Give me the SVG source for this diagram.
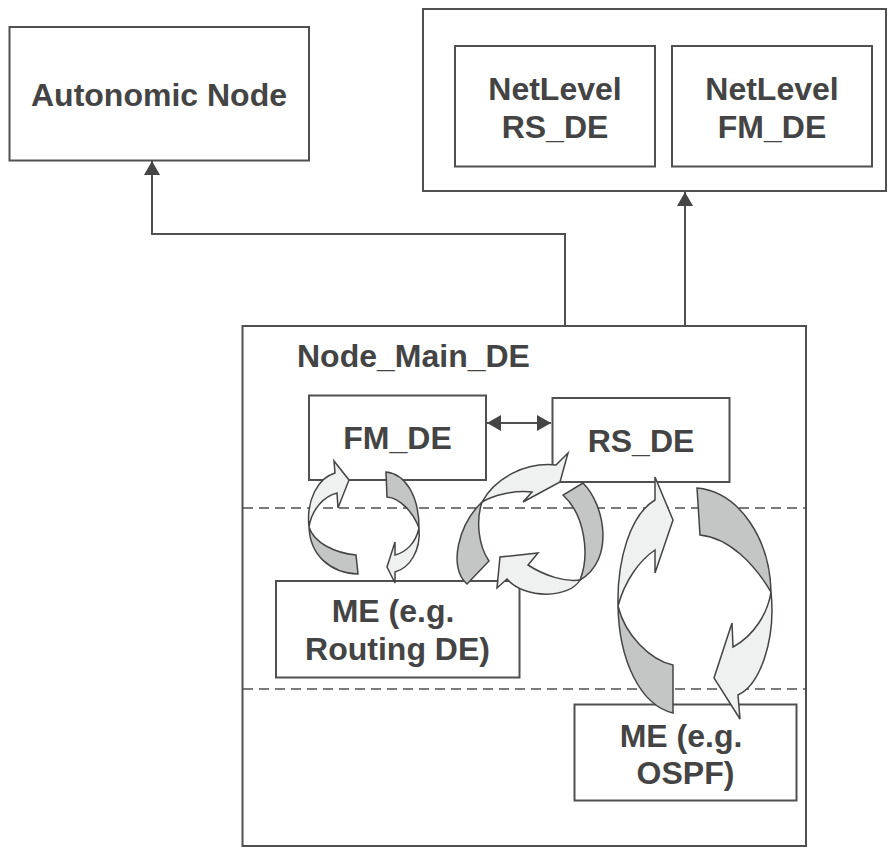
<svg xmlns="http://www.w3.org/2000/svg" width="888" height="850" viewBox="0 0 888 850">
<style>
.box{fill:#fff;stroke:#505050;stroke-width:2}
.t{font-family:"Liberation Sans",Arial,sans-serif;font-weight:bold;font-size:32px;fill:#444;text-anchor:middle}
.con{fill:none;stroke:#505050;stroke-width:2}
.dash{fill:none;stroke:#505050;stroke-width:1.6;stroke-dasharray:10,6}
.lt{fill:#eff1f0;stroke:#444;stroke-width:1.5;stroke-linejoin:miter}
.dk{fill:#c4c6c5;stroke:#444;stroke-width:1.5;stroke-linejoin:miter}
</style>
<defs>
<marker id="ah" viewBox="0 0 14 16" refX="14" refY="8" markerWidth="14" markerHeight="16" orient="auto-start-reverse" markerUnits="userSpaceOnUse">
<path d="M0,0 L14,8 L0,16 Z" fill="#454545"/>
</marker>
</defs>
<rect width="888" height="850" fill="#fff"/>

<g id="autonomic-node">
<rect class="box" x="9.5" y="27" width="299.5" height="133.5"/>
<text class="t" x="159" y="106">Autonomic Node</text>
</g>

<g id="netlevel">
<rect class="box" x="423" y="9" width="463" height="182"/>
<g id="netlevel-rs-de">
<rect class="box" x="455" y="46" width="200" height="120.5"/>
<text class="t" x="555" y="100">NetLevel</text>
<text class="t" x="555" y="138">RS_DE</text>
</g>
<g id="netlevel-fm-de">
<rect class="box" x="672" y="46" width="200" height="120.5"/>
<text class="t" x="772" y="100">NetLevel</text>
<text class="t" x="772" y="138">FM_DE</text>
</g>
</g>

<g id="node-main-de">
<rect class="box" x="242.5" y="326" width="563.5" height="520"/>
<text class="t" x="297" y="367" style="text-anchor:start">Node_Main_DE</text>
<line class="dash" x1="243" y1="508" x2="806" y2="508"/>
<line class="dash" x1="243" y1="689" x2="806" y2="689"/>
</g>

<g id="fm-de">
<rect class="box" x="309" y="395.5" width="177" height="84.5"/>
<text class="t" x="397.5" y="448.5">FM_DE</text>
</g>

<g id="rs-de">
<rect class="box" x="552.5" y="398" width="177" height="84"/>
<text class="t" x="641" y="452">RS_DE</text>
</g>

<g id="me-routing">
<rect class="box" x="276" y="581" width="243.5" height="96.5"/>
<text class="t" x="393" y="622">ME (e.g.</text>
<text class="t" x="397.5" y="659.5">Routing DE)</text>
</g>

<g id="me-ospf">
<rect class="box" x="574.5" y="704.5" width="222" height="96"/>
<text class="t" x="681" y="746.5">ME (e.g.</text>
<text class="t" x="685.5" y="784">OSPF)</text>
</g>

<g id="connectors">
<path class="con" d="M565,326 V234 H152 V161" marker-end="url(#ah)"/>
<path class="con" d="M685,326 V192" marker-end="url(#ah)"/>
<path class="con" d="M487,423 H551" marker-start="url(#ah)" marker-end="url(#ah)"/>
</g>

<g id="cycle-fm-me">
<path class="lt" d="M309,527 C306,500 318,478 335,473 L334,461 L349,480 L338,508 L337,493 C325,496 312,508 309,527 Z"/>
<path class="dk" d="M309,527 C310,555 330,573 358,574 L356,555 C335,553 314,543 309,527 Z"/>
<path class="dk" d="M386,472 C405,474 419,495 419,528 C413,512 400,498 387,497 Z"/>
<path class="lt" d="M419,528 C421,550 410,568 395,572 L395,583 L387,567 L395,542 L395,555 C407,552 416,542 419,528 Z"/>
</g>

<g id="cycle-rs-me">
<path class="lt" d="M482,502 C495,478 525,462 556,465 L568,453 L560,482 L523,502 L532,492 C512,490 492,496 482,502 Z"/>
<path class="dk" d="M482,502 C458,525 448,568 467,584 L489,561 C478,545 476,520 482,502 Z"/>
<path class="dk" d="M583,483 C605,505 615,560 580,580 C590,555 585,515 563,495 Z"/>
<path class="lt" d="M580,580 C570,598 525,600 507,579 L497,588 L500,557 L538,553 L528,565 C545,576 565,582 580,580 Z"/>
</g>

<g id="cycle-rs-ospf">
<path class="lt" d="M618,606 C617,560 630,515 655,500 L655,477 L673,520 L655,573 L655,550 C640,560 625,580 618,606 Z"/>
<path class="dk" d="M618,606 C619,660 640,705 673,713 L673,665 C650,660 625,635 618,606 Z"/>
<path class="dk" d="M697,488 C740,492 770,540 771,592 C755,565 730,538 700,535 Z"/>
<path class="lt" d="M771,592 C776,640 760,685 738,695 L740,719 L714,678 L732,623 L733,647 C755,635 768,612 771,592 Z"/>
</g>
</svg>
